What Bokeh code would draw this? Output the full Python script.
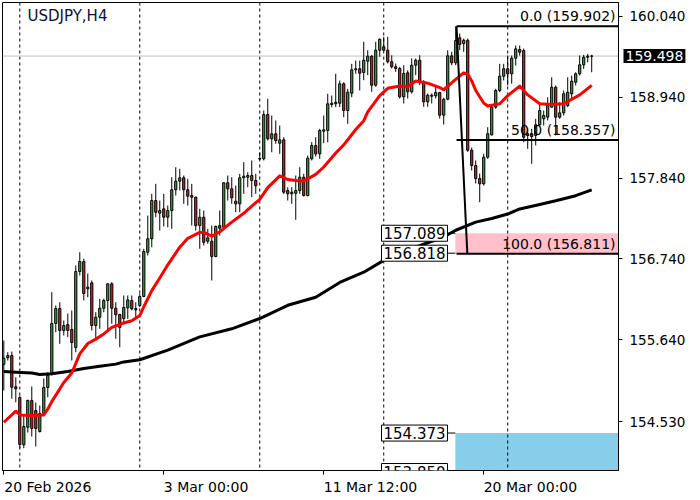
import numpy as np
from bokeh.plotting import figure
from bokeh.models import Range1d, FixedTicker, Span, Label, PrintfTickFormatter
from bokeh.embed import file_html
from bokeh.resources import INLINE

# ---------------- data ----------------
chart_title = "USDJPY,H4"

opens = [
    155.309, 155.396, 155.427, 155.002, 154.856, 154.213, 154.452, 154.815, 154.679, 154.394,
    154.639, 154.992, 155.182, 155.862, 156.066, 155.767, 155.848, 155.781, 155.536, 156.569,
    156.705, 156.334, 156.415, 155.835, 155.948, 156.070, 156.175, 156.402, 156.070, 155.984,
    155.930, 156.076, 156.175, 156.066, 156.107, 156.229, 156.831, 157.014, 157.534, 157.362,
    157.421, 157.307, 157.398, 157.680, 157.797, 157.843, 157.680, 157.602, 157.579, 157.194,
    157.307, 156.981, 156.981, 156.773, 157.194, 157.171, 157.775, 157.693, 157.525, 157.489,
    157.843, 157.851, 157.874, 157.806, 158.098, 158.101, 158.703, 158.373, 158.441, 158.313,
    158.359, 157.670, 157.625, 157.633, 157.670, 157.851, 157.602, 158.101, 158.282, 158.169,
    158.476, 158.486, 158.839, 158.849, 158.857, 159.121, 158.758, 158.993, 159.311, 159.325,
    159.274, 159.428, 159.496, 159.102, 159.577, 159.624, 159.577, 159.420, 159.352, 159.329,
    158.944, 159.270, 159.012, 159.373, 159.441, 159.138, 158.876, 158.952, 158.957, 159.002,
    158.694, 158.911, 159.501, 159.406, 159.746, 159.668, 159.713, 158.218, 158.010, 157.833,
    157.761, 158.123, 158.427, 158.803, 159.030, 159.224, 159.325, 159.257, 159.469, 159.587,
    159.573, 158.441, 158.441, 158.418, 158.563, 158.645, 158.667, 158.803, 159.074, 158.667,
    158.726, 158.826, 158.985, 159.142, 159.257, 159.379, 159.482, 159.496]
highs = [
    155.631, 155.472, 155.481, 155.132, 154.883, 154.611, 154.829, 155.006, 154.788, 154.747,
    155.114, 155.200, 156.288, 156.107, 156.152, 155.903, 155.998, 156.039, 156.651, 156.831,
    156.742, 156.542, 156.447, 156.016, 156.198, 156.198, 156.406, 156.424, 156.152, 155.994,
    156.243, 156.243, 156.243, 156.152, 156.266, 156.878, 157.330, 157.625, 157.761, 157.534,
    157.625, 157.466, 157.851, 157.987, 157.965, 157.874, 157.829, 157.761, 157.589, 157.421,
    157.398, 157.149, 157.194, 157.194, 157.398, 157.783, 157.874, 157.851, 157.738, 157.897,
    158.055, 157.919, 158.078, 157.897, 158.187, 158.758, 158.917, 158.690, 158.622, 158.554,
    158.395, 157.715, 157.715, 157.874, 157.987, 157.897, 158.146, 158.327, 158.395, 158.509,
    158.690, 158.985, 158.962, 159.257, 159.165, 159.142, 159.053, 159.392, 159.437, 159.437,
    159.692, 159.577, 159.509, 159.692, 159.736, 159.760, 159.760, 159.509, 159.397, 159.352,
    159.373, 159.305, 159.465, 159.465, 159.509, 159.170, 158.989, 158.989, 159.080, 159.012,
    158.930, 159.577, 159.556, 159.902, 159.804, 159.736, 159.736, 158.255, 158.078, 157.901,
    158.169, 158.531, 158.826, 159.053, 159.392, 159.392, 159.505, 159.505, 159.641, 159.641,
    159.600, 158.509, 158.509, 158.645, 158.870, 158.758, 158.938, 159.210, 159.098, 158.870,
    159.030, 159.210, 159.233, 159.278, 159.505, 159.515, 159.528, 159.515]
lows = [
    154.951, 155.359, 154.839, 154.792, 154.167, 154.167, 154.380, 154.326, 154.190, 154.380,
    154.625, 154.860, 155.155, 155.744, 155.586, 155.699, 155.676, 155.359, 155.472, 156.515,
    156.175, 156.220, 155.767, 155.631, 155.790, 156.016, 155.767, 155.858, 155.654, 155.540,
    155.876, 155.926, 156.039, 155.948, 156.084, 156.220, 156.787, 156.899, 157.307, 157.126,
    157.181, 157.171, 157.149, 157.602, 157.670, 157.489, 157.466, 157.194, 157.126, 156.878,
    156.922, 156.946, 156.447, 156.763, 157.058, 157.149, 157.534, 157.489, 157.375, 157.375,
    157.625, 157.715, 157.579, 157.625, 158.085, 158.078, 158.350, 158.191, 158.305, 158.169,
    157.625, 157.534, 157.489, 157.272, 157.625, 157.589, 157.589, 158.078, 158.132, 158.101,
    158.313, 158.327, 158.803, 158.803, 158.803, 158.667, 158.577, 158.938, 159.257, 159.030,
    159.170, 159.238, 159.012, 159.080, 159.488, 159.573, 159.397, 159.329, 159.284, 158.921,
    158.853, 158.921, 158.989, 159.238, 159.102, 158.808, 158.808, 158.853, 158.921, 158.649,
    158.567, 158.898, 159.373, 159.373, 159.577, 159.556, 158.196, 157.942, 157.765, 157.511,
    157.738, 158.101, 158.418, 158.781, 159.006, 159.166, 159.098, 159.121, 159.369, 159.505,
    158.327, 158.237, 158.033, 158.282, 158.554, 158.554, 158.622, 158.798, 158.418, 158.645,
    158.690, 158.803, 158.917, 159.098, 159.233, 159.325, 159.414, 159.278]
closes = [
    155.390, 155.427, 154.996, 154.974, 154.217, 154.462, 154.815, 154.435, 154.435, 154.639,
    154.992, 155.155, 155.862, 156.066, 155.767, 155.835, 155.767, 155.604, 156.569, 156.705,
    156.270, 156.356, 155.835, 155.948, 156.070, 156.175, 156.402, 156.070, 155.980, 155.808,
    156.080, 156.184, 156.062, 156.048, 156.229, 156.841, 157.014, 157.534, 157.375, 157.398,
    157.307, 157.398, 157.680, 157.797, 157.843, 157.680, 157.593, 157.579, 157.194, 157.307,
    156.967, 157.027, 156.773, 157.181, 157.158, 157.775, 157.693, 157.571, 157.489, 157.843,
    157.865, 157.874, 157.806, 157.734, 158.105, 158.703, 158.373, 158.441, 158.350, 158.359,
    157.647, 157.625, 157.647, 157.670, 157.851, 157.602, 158.109, 158.282, 158.169, 158.486,
    158.495, 158.849, 158.857, 158.870, 159.121, 158.758, 159.006, 159.311, 159.325, 159.265,
    159.441, 159.496, 159.102, 159.577, 159.727, 159.577, 159.420, 159.352, 159.329, 158.944,
    159.261, 159.012, 159.373, 159.441, 159.138, 158.876, 158.966, 158.966, 159.002, 158.694,
    158.911, 159.501, 159.406, 159.709, 159.655, 159.713, 158.218, 158.010, 157.833, 157.761,
    158.123, 158.441, 158.803, 159.030, 159.224, 159.325, 159.257, 159.469, 159.596, 159.550,
    158.395, 158.418, 158.404, 158.563, 158.758, 158.690, 158.826, 159.074, 158.667, 158.726,
    158.985, 159.006, 159.156, 159.257, 159.379, 159.482, 159.496, 159.498]

# moving averages, read at bar positions
red_ma_bar = [0, 3, 4, 7, 10, 11, 12, 15, 17, 19, 21, 23, 25, 27, 28, 30, 32, 34, 35, 37, 39, 41,
              44, 46, 49, 50, 52, 54, 57, 60, 61, 64, 66, 69, 71, 74, 75, 78, 80, 83, 85, 88, 90,
              91, 94, 96, 99, 101, 103, 106, 109, 110, 113, 115, 116, 117, 118, 120, 121, 124,
              126, 129, 131, 134, 137, 140, 144, 147]
red_ma_val = [154.52, 154.67, 154.62, 154.61, 154.62, 154.70, 154.80, 155.06, 155.19, 155.45,
              155.59, 155.65, 155.72, 155.81, 155.83, 155.87, 155.90, 155.97, 156.09, 156.31,
              156.48, 156.66, 156.90, 157.02, 157.10, 157.10, 157.05, 157.11, 157.24, 157.36,
              157.41, 157.55, 157.71, 157.87, 157.82, 157.80, 157.80, 157.89, 157.99, 158.18,
              158.29, 158.50, 158.62, 158.74, 158.96, 159.06, 159.09, 159.08, 159.16, 159.13,
              159.07, 159.04, 159.18, 159.27, 159.25, 159.16, 159.03, 158.86, 158.82, 158.85,
              158.96, 159.09, 158.97, 158.85, 158.84, 158.85, 158.97, 159.10]
black_ma_bar = [0, 3, 7, 9, 12, 16, 20, 24, 28, 30, 34, 41, 49, 57, 64, 71, 78, 84, 90, 95, 101,
                107, 109, 113, 118, 122, 126, 129, 134, 138, 143, 147]
black_ma_val = [155.21, 155.20, 155.19, 155.17, 155.18, 155.21, 155.25, 155.28, 155.31, 155.34,
                155.37, 155.50, 155.68, 155.79, 155.93, 156.11, 156.22, 156.42, 156.56, 156.72,
                156.86, 156.98, 157.01, 157.13, 157.24, 157.29, 157.35, 157.42, 157.48, 157.53,
                157.60, 157.68]

week_sep_bars = [4, 34, 64, 95, 126]
time_tick_bars = [0, 40, 80, 120]
time_tick_labels = ["20 Feb 2026", "3 Mar 00:00", "11 Mar 12:00", "20 Mar 00:00"]

price_ticks = [154.530, 155.640, 156.740, 157.840, 158.940, 160.040]
bid_price = 159.498

fib_high = 159.902
fib_low = 156.811
fib_levels = [0.0, 50.0, 100.0]
fib_high_bar = 113.2
fib_low_bar = 115.9

zone_start_bar = 112.9
zone_bottoms = [156.818, 153.850]
zone_tops = [157.089, 154.373]
zone_colors = ["#FFC0CB", "#87CEEB"]
zone_label_prices = [157.089, 156.818, 154.373, 153.850]

# ---------------- layout ----------------
FW, FH = 616, 468
X0, X1 = -0.325, 153.7
Y0, Y1 = 153.864, 160.226
ppb = FW / (X1 - X0)
ppy = FH / (Y1 - Y0)
FONT = "DejaVu Sans"

p = figure(frame_width=FW, frame_height=FH,
           x_range=Range1d(X0, X1), y_range=Range1d(Y0, Y1),
           y_axis_location="right", output_backend="svg", toolbar_location=None,
           min_border_left=2, min_border_top=2, min_border_right=0, min_border_bottom=0,
           background_fill_color="white", border_fill_color="white")
p.outline_line_color = "black"
p.outline_line_width = 1
p.grid.visible = False

# y axis (right)
ya = p.yaxis[0]
ya.ticker = FixedTicker(ticks=price_ticks)
ya.formatter = PrintfTickFormatter(format="%.3f")
ya.major_tick_out = 4
ya.major_tick_in = 0
ya.minor_tick_line_color = None
ya.major_label_standoff = 7
ya.major_label_text_font = FONT
ya.major_label_text_font_size = "13.5px"
ya.major_label_text_color = "black"
ya.axis_line_color = "black"

# x axis (labels left-aligned at their tick)
half_px = [44.0, 42.3, 46.7, 46.7]
centers = [round(b + h / ppb, 2) for b, h in zip(time_tick_bars, half_px)]
xa = p.xaxis[0]
xa.ticker = FixedTicker(ticks=centers, minor_ticks=time_tick_bars)
xa.major_label_overrides = {c: t for c, t in zip(centers, time_tick_labels)}
xa.major_tick_out = 0
xa.major_tick_in = 0
xa.minor_tick_out = 4
xa.minor_tick_in = 0
xa.minor_tick_line_color = "black"
xa.major_label_standoff = 4
xa.major_label_text_font = FONT
xa.major_label_text_font_size = "14px"
xa.major_label_text_color = "black"
xa.axis_line_color = "black"

# zones
p.quad(left=[zone_start_bar] * 2, right=[X1 + 1] * 2, bottom=zone_bottoms, top=zone_tops,
       fill_color=zone_colors, line_color=None, level="underlay")

# separators and bid line
for b in week_sep_bars:
    p.add_layout(Span(location=b, dimension="height", line_color="black",
                      line_dash="3 3", line_width=1, level="underlay"))
p.add_layout(Span(location=bid_price, dimension="width", line_color="#C0C0C0",
                  line_width=1, level="underlay"))

# candles
o = np.array(opens); h = np.array(highs); l = np.array(lows); c = np.array(closes)
x = np.arange(len(o))
up = c >= o
body_col = np.where(up, "#33a833", "#e02020")
p.segment(x0=x, y0=l, x1=x, y1=h, line_color="black", line_width=1)
p.vbar(x=x, width=0.55, top=np.maximum(o, c), bottom=np.minimum(o, c),
       fill_color=list(body_col), line_color="black", line_width=1)

# moving averages
p.line(black_ma_bar, black_ma_val, line_color="black", line_width=3, line_join="round")
p.line(red_ma_bar, red_ma_val, line_color="#FF0000", line_width=3, line_join="round")

# fibonacci
fib_prices = [round(fib_high - lv / 100.0 * (fib_high - fib_low) + 1e-9, 3) for lv in fib_levels]
p.segment(x0=[fib_high_bar] * 3, y0=fib_prices, x1=[X1 + 1] * 3, y1=fib_prices,
          line_color="black", line_width=2)
p.line([fib_high_bar, fib_low_bar], [fib_high, fib_low], line_color="black", line_width=2)
for lv, fp in zip(fib_levels, fib_prices):
    p.add_layout(Label(x=X1 - 3 / ppb, y=fp + 2 / ppy, text=f"{lv:.1f} ({fp:.3f})",
                       text_align="right", text_baseline="bottom", text_font=FONT,
                       text_font_size="14px", text_color="black"))

# zone price boxes + connectors
box_right_bar = 110.7
p.segment(x0=[box_right_bar] * 4, y0=zone_label_prices, x1=[zone_start_bar] * 4,
          y1=zone_label_prices, line_color="black", line_width=1)
for zp in zone_label_prices:
    p.add_layout(Label(x=box_right_bar + 1 / ppb, y=zp, text=f"{zp:.3f}",
                       text_align="right", text_baseline="middle", text_font=FONT,
                       text_font_size="15px", text_color="black",
                       background_fill_color="white", border_line_color="black",
                       border_line_width=1, padding=2))

# current price box (placed in a side panel so it is not clipped to the frame)
bid_label = Label(x=X1 + 5 / ppb, y=bid_price, text=f"{bid_price:.3f}",
                  text_align="left", text_baseline="middle", text_font=FONT,
                  text_font_size="14px", text_color="white",
                  background_fill_color="black", padding=2)
p.add_layout(bid_label, "below")

# title
p.add_layout(Label(x=X0 + 25 / ppb, y=Y1 - 4 / ppy, text=chart_title,
                   text_align="left", text_baseline="top", text_font=FONT,
                   text_font_size="15px", text_color="#101030"))

open("out.html", "w").write(file_html(p, INLINE))
